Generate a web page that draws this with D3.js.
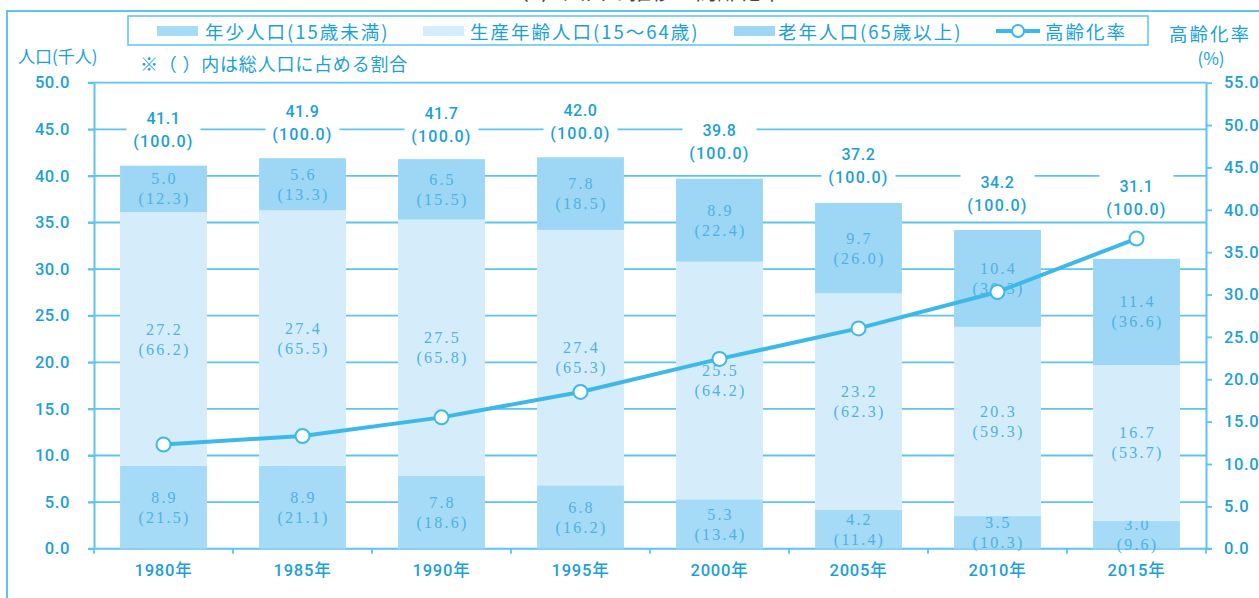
<!DOCTYPE html>
<html>
<head>
<meta charset="utf-8">
<script src="https://cdn.jsdelivr.net/npm/d3@7"></script>
<style>
  body { margin: 0; background: #fff; }
  svg { display: block; }
</style>
</head>
<body>
<svg id="chart" width="1259" height="598"></svg>
<script>
// ---- data (population in thousands, share of total in %) ----
const years        = ["1980年", "1985年", "1990年", "1995年", "2000年", "2005年", "2010年", "2015年"];
const young        = [8.9, 8.9, 7.8, 6.8, 5.3, 4.2, 3.5, 3.0];
const youngPct     = [21.5, 21.1, 18.6, 16.2, 13.4, 11.4, 10.3, 9.6];
const working      = [27.2, 27.4, 27.5, 27.4, 25.5, 23.2, 20.3, 16.7];
const workingPct   = [66.2, 65.5, 65.8, 65.3, 64.2, 62.3, 59.3, 53.7];
const elderly      = [5.0, 5.6, 6.5, 7.8, 8.9, 9.7, 10.4, 11.4];
const elderlyPct   = [12.3, 13.3, 15.5, 18.5, 22.4, 26.0, 30.3, 36.6];
const totals       = [41.1, 41.9, 41.7, 42.0, 39.8, 37.2, 34.2, 31.1];
const agingRate    = [12.3, 13.3, 15.5, 18.5, 22.4, 26.0, 30.3, 36.6];
const seriesNames  = ["年少人口(15歳未満)", "生産年齢人口(15～64歳)", "老年人口(65歳以上)", "高齢化率"];
const leftTicks    = [0, 5, 10, 15, 20, 25, 30, 35, 40, 45, 50];
const rightTicks   = [0, 5, 10, 15, 20, 25, 30, 35, 40, 45, 50, 55];

// ---- styling ----
const C = {
  text: "#1a9fd8",
  barText: "#4bb2e2",
  rule: "#5cc4ee",
  line: "#3cb9ea",
  young: "#a5dbf6",
  working: "#d5edfa",
  elderly: "#9dd7f5"
};
const segColors = [C.young, C.working, C.elderly];
const sansJP = "Roboto, 'Noto Sans CJK JP', sans-serif";
const cjk = "'Noto Sans CJK JP', sans-serif";

const svg = d3.select("#chart");
const plot = { left: 94, right: 1206, top: 82.7, bottom: 548.7 };

const x = d3.scaleBand().domain(years).range([plot.left, plot.right]).padding(0);
const yL = d3.scaleLinear().domain([0, 50]).range([plot.bottom, plot.top]);
const yR = d3.scaleLinear().domain([0, 55]).range([plot.bottom, plot.top]);
const barW = x.bandwidth() * 0.625;
const cx = d => x(d) + x.bandwidth() / 2;

// ---- outer frame and heading running off the top edge ----
svg.append("text")
  .attr("x", 645).attr("y", -1)
  .attr("text-anchor", "middle")
  .attr("font-family", cjk).attr("font-size", 22).attr("fill", "#444")
  .text("（1）人口の推移と高齢化率");
svg.append("path")
  .attr("d", `M7,598V11H1259`)
  .attr("fill", "none").attr("stroke", C.rule).attr("stroke-width", 2);

// ---- legend ----
const lg = svg.append("g");
lg.append("rect")
  .attr("x", 128).attr("y", 16).attr("width", 1020).attr("height", 29)
  .attr("fill", "#fff").attr("stroke", C.rule).attr("stroke-width", 1.5);
const legendItems = [
  { sx: 157, tx: 205, kind: "bar", color: C.young },
  { sx: 423, tx: 470, kind: "bar", color: C.working },
  { sx: 734, tx: 778, kind: "bar", color: C.elderly },
  { sx: 996, tx: 1045, kind: "line" }
];
legendItems.forEach((it, i) => {
  if (it.kind === "bar") {
    lg.append("rect").attr("x", it.sx).attr("y", 26).attr("width", 41).attr("height", 10).attr("fill", it.color);
  } else {
    lg.append("line").attr("x1", it.sx).attr("x2", it.sx + 44).attr("y1", 31).attr("y2", 31)
      .attr("stroke", C.line).attr("stroke-width", 4);
    lg.append("circle").attr("cx", it.sx + 22).attr("cy", 31).attr("r", 6)
      .attr("fill", "#fff").attr("stroke", C.line).attr("stroke-width", 2);
  }
  lg.append("text")
    .attr("x", it.tx).attr("y", 31).attr("dominant-baseline", "central")
    .attr("font-family", cjk).attr("font-size", 18.5).attr("letter-spacing", 2)
    .attr("fill", C.text).text(seriesNames[i]);
});

// ---- axis titles and note ----
svg.append("text").attr("x", 18).attr("y", 55).attr("dominant-baseline", "central")
  .attr("font-family", cjk).attr("font-size", 17).attr("fill", C.text).text("人口(千人)");
svg.append("text").attr("x", 140).attr("y", 63).attr("dominant-baseline", "central")
  .attr("font-family", cjk).attr("font-size", 18).attr("letter-spacing", 0.8)
  .attr("fill", C.text).text("※（ ）内は総人口に占める割合");
svg.append("text").attr("x", 1210).attr("y", 33).attr("text-anchor", "middle").attr("dominant-baseline", "central")
  .attr("font-family", cjk).attr("font-size", 18.5).attr("letter-spacing", 2)
  .attr("fill", C.text).text("高齢化率");
svg.append("text").attr("x", 1211).attr("y", 57).attr("text-anchor", "middle").attr("dominant-baseline", "central")
  .attr("font-family", cjk).attr("font-size", 17).attr("fill", C.text).text("(%)");

// ---- gridlines ----
svg.append("g").selectAll("line")
  .data(leftTicks.filter(v => v > 0))
  .join("line")
  .attr("x1", plot.left - 6).attr("x2", plot.right)
  .attr("y1", d => yL(d)).attr("y2", d => yL(d))
  .attr("stroke", C.rule).attr("stroke-width", 1.8);

// ---- axes ----
const styleAxis = g => {
  g.selectAll("path.domain").attr("stroke", C.rule).attr("stroke-width", 2);
  g.selectAll(".tick line").attr("stroke", C.rule).attr("stroke-width", 1.8);
  g.selectAll(".tick text").attr("fill", C.text)
    .attr("font-family", "Roboto, sans-serif").attr("font-weight", 500)
    .attr("font-size", 16.5).attr("letter-spacing", 0.6);
};
svg.append("g").attr("transform", `translate(${plot.left},0)`)
  .call(d3.axisLeft(yL).tickValues(leftTicks).tickFormat(d3.format(".1f")).tickSize(6).tickSizeOuter(0).tickPadding(18))
  .call(styleAxis);
svg.append("g").attr("transform", `translate(${plot.right},0)`)
  .call(d3.axisRight(yR).tickValues(rightTicks).tickFormat(d3.format(".1f")).tickSize(6).tickSizeOuter(0).tickPadding(12))
  .call(styleAxis);

// bottom axis: base line, boundary ticks, centred year labels
const xAxis = svg.append("g");
xAxis.append("line")
  .attr("x1", plot.left - 6).attr("x2", plot.right + 6)
  .attr("y1", plot.bottom).attr("y2", plot.bottom)
  .attr("stroke", C.rule).attr("stroke-width", 2);
xAxis.selectAll("line.bt")
  .data(years.map(d => x(d)).concat([plot.right]))
  .join("line").attr("class", "bt")
  .attr("x1", d => d).attr("x2", d => d)
  .attr("y1", plot.bottom).attr("y2", plot.bottom + 5)
  .attr("stroke", C.rule).attr("stroke-width", 1.8);
svg.append("g").attr("transform", `translate(0,${plot.bottom})`)
  .call(d3.axisBottom(x).tickSize(0).tickPadding(16))
  .call(g => g.select("path.domain").remove())
  .call(g => g.selectAll(".tick text").attr("fill", C.text)
    .attr("font-family", sansJP).attr("font-weight", 500)
    .attr("font-size", 16.5).attr("letter-spacing", 0.8));

// ---- total labels above bars (white ground breaks the gridlines) ----
const rows = years.map((yr, i) => ({ yr, i, young: young[i], working: working[i], elderly: elderly[i] }));
const stack = d3.stack().keys(["young", "working", "elderly"])(rows);

const totalG = svg.append("g");
rows.forEach(r => {
  const barTop = yL(totals[r.i]);
  const anchor = Math.min(barTop, yR(agingRate[r.i]) - 5);
  totalG.append("rect")
    .attr("x", cx(r.yr) - 37).attr("y", anchor - 59)
    .attr("width", 74).attr("height", 46).attr("fill", "#fff");
  totalG.append("text")
    .attr("x", cx(r.yr)).attr("y", anchor - 47)
    .attr("text-anchor", "middle").attr("dominant-baseline", "central")
    .attr("font-family", "Roboto, sans-serif").attr("font-weight", 500)
    .attr("font-size", 16).attr("letter-spacing", 0.6).attr("fill", C.text)
    .text(d3.format(".1f")(totals[r.i]));
  totalG.append("text")
    .attr("x", cx(r.yr)).attr("y", anchor - 24)
    .attr("text-anchor", "middle").attr("dominant-baseline", "central")
    .attr("font-family", "Roboto, sans-serif").attr("font-weight", 500)
    .attr("font-size", 16).attr("letter-spacing", 1.2).attr("fill", C.text)
    .text("(100.0)");
});

// ---- stacked bars ----
const pcts = [youngPct, workingPct, elderlyPct];
stack.forEach((layer, k) => {
  const g = svg.append("g");
  g.selectAll("rect").data(layer).join("rect")
    .attr("x", d => cx(d.data.yr) - barW / 2)
    .attr("width", barW)
    .attr("y", d => yL(d[1]))
    .attr("height", d => yL(d[0]) - yL(d[1]))
    .attr("fill", segColors[k]);
  layer.forEach(d => {
    const mid = (yL(d[0]) + yL(d[1])) / 2;
    const t = g.append("g").attr("font-family", "'Liberation Serif', 'DejaVu Serif', serif")
      .attr("font-size", 16).attr("letter-spacing", 2.2).attr("fill", C.barText)
      .attr("text-anchor", "middle");
    t.append("text").attr("x", cx(d.data.yr) + 1).attr("y", mid - 10).attr("dominant-baseline", "central")
      .text(d3.format(".1f")(d[1] - d[0]));
    t.append("text").attr("x", cx(d.data.yr) + 1).attr("y", mid + 10).attr("dominant-baseline", "central")
      .text("(" + d3.format(".1f")(pcts[k][d.data.i]) + ")");
  });
});

// ---- aging rate line (right axis) ----
const line = d3.line().x((d, i) => cx(years[i])).y(d => yR(d));
svg.append("path").datum(agingRate)
  .attr("d", line).attr("fill", "none")
  .attr("stroke", C.line).attr("stroke-width", 4).attr("stroke-linejoin", "round");
svg.append("g").selectAll("circle").data(agingRate).join("circle")
  .attr("cx", (d, i) => cx(years[i])).attr("cy", d => yR(d)).attr("r", 7)
  .attr("fill", "#fff").attr("stroke", C.line).attr("stroke-width", 2);
</script>
</body>
</html>
